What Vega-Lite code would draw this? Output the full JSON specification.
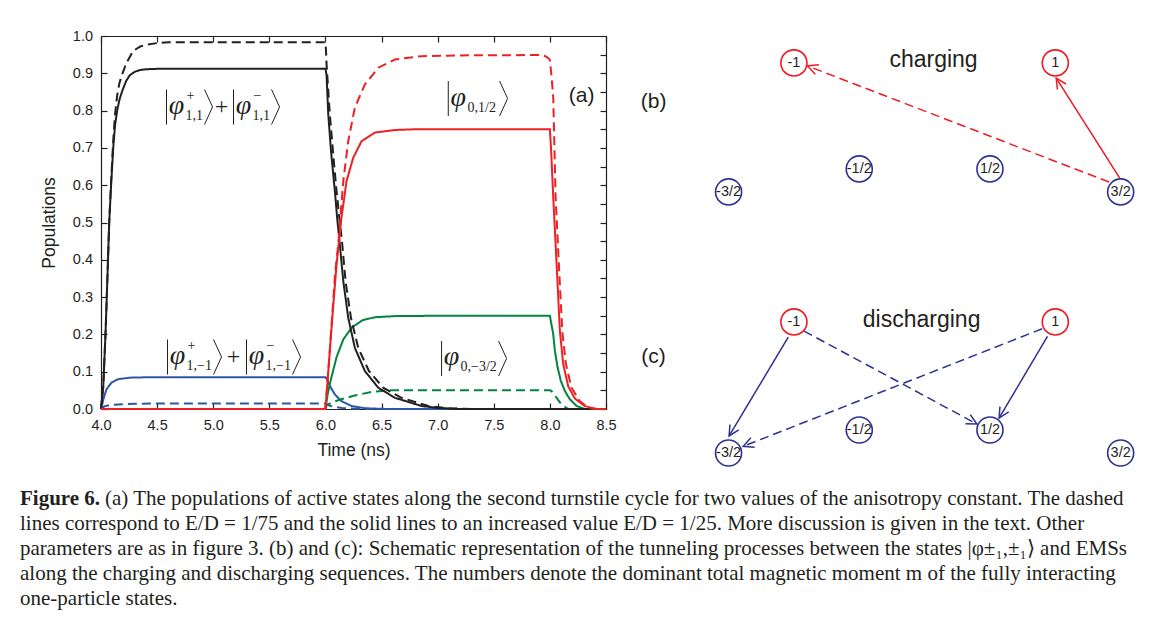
{
  "$schema": "https://vega.github.io/schema/vega-lite/v6.json",
  "padding": {"left": 20, "top": 28, "right": 0, "bottom": 0},
  "background": "white",
  "config": {"view": {"stroke": null}, "font": "Liberation Sans"},
  "datasets": {
    "lines": [
      {"s":"blue","e":"1/25","t":4.0,"p":0},{"s":"blue","e":"1/25","t":4.025,"p":0.03},{"s":"blue","e":"1/25","t":4.049,"p":0.053},{"s":"blue","e":"1/25","t":4.094,"p":0.071},{"s":"blue","e":"1/25","t":4.153,"p":0.08},{"s":"blue","e":"1/25","t":4.257,"p":0.084},{"s":"blue","e":"1/25","t":4.4,"p":0.085},{"s":"blue","e":"1/25","t":6.0,"p":0.085},{"s":"blue","e":"1/25","t":6.01,"p":0.082},{"s":"blue","e":"1/25","t":6.039,"p":0.062},{"s":"blue","e":"1/25","t":6.084,"p":0.039},{"s":"blue","e":"1/25","t":6.143,"p":0.021},{"s":"blue","e":"1/25","t":6.233,"p":0.008},{"s":"blue","e":"1/25","t":6.351,"p":0.002},{"s":"blue","e":"1/25","t":6.55,"p":0},{"s":"blue","e":"1/25","t":8.5,"p":0},
      {"s":"blue","e":"1/75","t":4.0,"p":0},{"s":"blue","e":"1/75","t":4.03,"p":0.007},{"s":"blue","e":"1/75","t":4.08,"p":0.011},{"s":"blue","e":"1/75","t":4.2,"p":0.013},{"s":"blue","e":"1/75","t":4.5,"p":0.015},{"s":"blue","e":"1/75","t":6.0,"p":0.015},{"s":"blue","e":"1/75","t":6.01,"p":0.012},{"s":"blue","e":"1/75","t":6.05,"p":0.008},{"s":"blue","e":"1/75","t":6.084,"p":0.005},{"s":"blue","e":"1/75","t":6.15,"p":0.003},{"s":"blue","e":"1/75","t":6.25,"p":0.001},{"s":"blue","e":"1/75","t":6.35,"p":0},{"s":"blue","e":"1/75","t":8.5,"p":0},
      {"s":"green","e":"1/25","t":4.0,"p":0},{"s":"green","e":"1/25","t":6.0,"p":0},{"s":"green","e":"1/25","t":6.02,"p":0.04},{"s":"green","e":"1/25","t":6.045,"p":0.075},{"s":"green","e":"1/25","t":6.1,"p":0.14},{"s":"green","e":"1/25","t":6.16,"p":0.187},{"s":"green","e":"1/25","t":6.233,"p":0.218},{"s":"green","e":"1/25","t":6.33,"p":0.238},{"s":"green","e":"1/25","t":6.44,"p":0.246},{"s":"green","e":"1/25","t":6.62,"p":0.249},{"s":"green","e":"1/25","t":7.0,"p":0.25},{"s":"green","e":"1/25","t":8.0,"p":0.25},{"s":"green","e":"1/25","t":8.03,"p":0.2},{"s":"green","e":"1/25","t":8.045,"p":0.155},{"s":"green","e":"1/25","t":8.069,"p":0.111},{"s":"green","e":"1/25","t":8.098,"p":0.075},{"s":"green","e":"1/25","t":8.134,"p":0.048},{"s":"green","e":"1/25","t":8.178,"p":0.026},{"s":"green","e":"1/25","t":8.238,"p":0.008},{"s":"green","e":"1/25","t":8.312,"p":0},{"s":"green","e":"1/25","t":8.5,"p":0},
      {"s":"green","e":"1/75","t":4.0,"p":0},{"s":"green","e":"1/75","t":6.0,"p":0},{"s":"green","e":"1/75","t":6.012,"p":0.011},{"s":"green","e":"1/75","t":6.06,"p":0.018},{"s":"green","e":"1/75","t":6.14,"p":0.026},{"s":"green","e":"1/75","t":6.26,"p":0.036},{"s":"green","e":"1/75","t":6.41,"p":0.046},{"s":"green","e":"1/75","t":6.56,"p":0.05},{"s":"green","e":"1/75","t":8.0,"p":0.05},{"s":"green","e":"1/75","t":8.015,"p":0.048},{"s":"green","e":"1/75","t":8.06,"p":0.03},{"s":"green","e":"1/75","t":8.104,"p":0.012},{"s":"green","e":"1/75","t":8.164,"p":0},{"s":"green","e":"1/75","t":8.5,"p":0},
      {"s":"black","e":"1/25","t":4.0,"p":0},{"s":"black","e":"1/25","t":4.02,"p":0.06},{"s":"black","e":"1/25","t":4.04,"p":0.2},{"s":"black","e":"1/25","t":4.057,"p":0.35},{"s":"black","e":"1/25","t":4.073,"p":0.5},{"s":"black","e":"1/25","t":4.09,"p":0.6},{"s":"black","e":"1/25","t":4.109,"p":0.7},{"s":"black","e":"1/25","t":4.125,"p":0.76},{"s":"black","e":"1/25","t":4.144,"p":0.8},{"s":"black","e":"1/25","t":4.165,"p":0.83},{"s":"black","e":"1/25","t":4.192,"p":0.855},{"s":"black","e":"1/25","t":4.225,"p":0.88},{"s":"black","e":"1/25","t":4.257,"p":0.895},{"s":"black","e":"1/25","t":4.3,"p":0.904},{"s":"black","e":"1/25","t":4.35,"p":0.909},{"s":"black","e":"1/25","t":4.406,"p":0.911},{"s":"black","e":"1/25","t":4.5,"p":0.912},{"s":"black","e":"1/25","t":6.0,"p":0.912},{"s":"black","e":"1/25","t":6.01,"p":0.895},{"s":"black","e":"1/25","t":6.025,"p":0.79},{"s":"black","e":"1/25","t":6.05,"p":0.69},{"s":"black","e":"1/25","t":6.084,"p":0.584},{"s":"black","e":"1/25","t":6.105,"p":0.51},{"s":"black","e":"1/25","t":6.128,"p":0.441},{"s":"black","e":"1/25","t":6.159,"p":0.343},{"s":"black","e":"1/25","t":6.203,"p":0.245},{"s":"black","e":"1/25","t":6.262,"p":0.164},{"s":"black","e":"1/25","t":6.351,"p":0.102},{"s":"black","e":"1/25","t":6.471,"p":0.057},{"s":"black","e":"1/25","t":6.619,"p":0.03},{"s":"black","e":"1/25","t":6.857,"p":0.008},{"s":"black","e":"1/25","t":7.0,"p":0.003},{"s":"black","e":"1/25","t":7.2,"p":0},{"s":"black","e":"1/25","t":8.5,"p":0},
      {"s":"black","e":"1/75","t":4.0,"p":0},{"s":"black","e":"1/75","t":4.02,"p":0.06},{"s":"black","e":"1/75","t":4.04,"p":0.2},{"s":"black","e":"1/75","t":4.057,"p":0.35},{"s":"black","e":"1/75","t":4.073,"p":0.5},{"s":"black","e":"1/75","t":4.09,"p":0.61},{"s":"black","e":"1/75","t":4.109,"p":0.72},{"s":"black","e":"1/75","t":4.125,"p":0.79},{"s":"black","e":"1/75","t":4.144,"p":0.84},{"s":"black","e":"1/75","t":4.165,"p":0.875},{"s":"black","e":"1/75","t":4.192,"p":0.9},{"s":"black","e":"1/75","t":4.227,"p":0.928},{"s":"black","e":"1/75","t":4.287,"p":0.96},{"s":"black","e":"1/75","t":4.35,"p":0.972},{"s":"black","e":"1/75","t":4.406,"p":0.977},{"s":"black","e":"1/75","t":4.5,"p":0.981},{"s":"black","e":"1/75","t":4.6,"p":0.983},{"s":"black","e":"1/75","t":6.0,"p":0.983},{"s":"black","e":"1/75","t":6.005,"p":0.96},{"s":"black","e":"1/75","t":6.01,"p":0.924},{"s":"black","e":"1/75","t":6.039,"p":0.79},{"s":"black","e":"1/75","t":6.07,"p":0.68},{"s":"black","e":"1/75","t":6.099,"p":0.584},{"s":"black","e":"1/75","t":6.125,"p":0.51},{"s":"black","e":"1/75","t":6.15,"p":0.441},{"s":"black","e":"1/75","t":6.179,"p":0.343},{"s":"black","e":"1/75","t":6.227,"p":0.245},{"s":"black","e":"1/75","t":6.292,"p":0.164},{"s":"black","e":"1/75","t":6.387,"p":0.102},{"s":"black","e":"1/75","t":6.515,"p":0.057},{"s":"black","e":"1/75","t":6.678,"p":0.03},{"s":"black","e":"1/75","t":6.916,"p":0.008},{"s":"black","e":"1/75","t":7.1,"p":0.002},{"s":"black","e":"1/75","t":7.3,"p":0},{"s":"black","e":"1/75","t":8.5,"p":0},
      {"s":"red","e":"1/25","t":4.0,"p":0},{"s":"red","e":"1/25","t":6.0,"p":0},{"s":"red","e":"1/25","t":6.03,"p":0.12},{"s":"red","e":"1/25","t":6.06,"p":0.24},{"s":"red","e":"1/25","t":6.099,"p":0.388},{"s":"red","e":"1/25","t":6.143,"p":0.513},{"s":"red","e":"1/25","t":6.188,"p":0.611},{"s":"red","e":"1/25","t":6.248,"p":0.674},{"s":"red","e":"1/25","t":6.322,"p":0.718},{"s":"red","e":"1/25","t":6.44,"p":0.741},{"s":"red","e":"1/25","t":6.619,"p":0.748},{"s":"red","e":"1/25","t":6.8,"p":0.75},{"s":"red","e":"1/25","t":8.0,"p":0.75},{"s":"red","e":"1/25","t":8.01,"p":0.7},{"s":"red","e":"1/25","t":8.03,"p":0.567},{"s":"red","e":"1/25","t":8.06,"p":0.388},{"s":"red","e":"1/25","t":8.089,"p":0.209},{"s":"red","e":"1/25","t":8.119,"p":0.12},{"s":"red","e":"1/25","t":8.164,"p":0.06},{"s":"red","e":"1/25","t":8.223,"p":0.028},{"s":"red","e":"1/25","t":8.253,"p":0.021},{"s":"red","e":"1/25","t":8.312,"p":0.008},{"s":"red","e":"1/25","t":8.372,"p":0.003},{"s":"red","e":"1/25","t":8.42,"p":0},{"s":"red","e":"1/25","t":8.5,"p":0},
      {"s":"red","e":"1/75","t":4.0,"p":0},{"s":"red","e":"1/75","t":6.0,"p":0},{"s":"red","e":"1/75","t":6.03,"p":0.12},{"s":"red","e":"1/75","t":6.06,"p":0.25},{"s":"red","e":"1/75","t":6.085,"p":0.36},{"s":"red","e":"1/75","t":6.114,"p":0.441},{"s":"red","e":"1/75","t":6.159,"p":0.611},{"s":"red","e":"1/75","t":6.203,"p":0.718},{"s":"red","e":"1/75","t":6.262,"p":0.808},{"s":"red","e":"1/75","t":6.351,"p":0.87},{"s":"red","e":"1/75","t":6.471,"p":0.915},{"s":"red","e":"1/75","t":6.619,"p":0.937},{"s":"red","e":"1/75","t":6.857,"p":0.946},{"s":"red","e":"1/75","t":7.2,"p":0.948},{"s":"red","e":"1/75","t":7.9,"p":0.949},{"s":"red","e":"1/75","t":7.96,"p":0.946},{"s":"red","e":"1/75","t":7.99,"p":0.94},{"s":"red","e":"1/75","t":8.0,"p":0.935},{"s":"red","e":"1/75","t":8.015,"p":0.89},{"s":"red","e":"1/75","t":8.03,"p":0.835},{"s":"red","e":"1/75","t":8.051,"p":0.567},{"s":"red","e":"1/75","t":8.08,"p":0.388},{"s":"red","e":"1/75","t":8.11,"p":0.209},{"s":"red","e":"1/75","t":8.143,"p":0.12},{"s":"red","e":"1/75","t":8.193,"p":0.057},{"s":"red","e":"1/75","t":8.267,"p":0.021},{"s":"red","e":"1/75","t":8.33,"p":0.006},{"s":"red","e":"1/75","t":8.387,"p":0},{"s":"red","e":"1/75","t":8.5,"p":0}
    ],
    "ketRules": [
      {"x":4.5838,"y":0.8566,"x2":4.5838,"y2":0.7627},{"x":4.9225,"y":0.8566,"x2":4.9938,"y2":0.8097},{"x":4.9938,"y":0.8097,"x2":4.9225,"y2":0.7627},
      {"x":5.1809,"y":0.8566,"x2":5.1809,"y2":0.7627},{"x":5.5196,"y":0.8566,"x2":5.5909,"y2":0.8097},{"x":5.5909,"y":0.8097,"x2":5.5196,"y2":0.7627},
      {"x":7.0945,"y":0.8794,"x2":7.0945,"y2":0.7855},{"x":7.5517,"y":0.8794,"x2":7.623,"y2":0.8324},{"x":7.623,"y":0.8324,"x2":7.5517,"y2":0.7855},
      {"x":4.5927,"y":0.1863,"x2":4.5927,"y2":0.0925},{"x":5.0027,"y":0.1863,"x2":5.074,"y2":0.1394},{"x":5.074,"y":0.1394,"x2":5.0027,"y2":0.0925},
      {"x":5.2968,"y":0.1863,"x2":5.2968,"y2":0.0925},{"x":5.7068,"y":0.1863,"x2":5.7781,"y2":0.1394},{"x":5.7781,"y":0.1394,"x2":5.7068,"y2":0.0925},
      {"x":7.0348,"y":0.1823,"x2":7.0348,"y2":0.0885},{"x":7.5428,"y":0.1823,"x2":7.6141,"y2":0.1354},{"x":7.6141,"y":0.1354,"x2":7.5428,"y2":0.0885}
    ],
    "ketText": [
      {"k":"phi","t":4.6729,"p":0.8123,"txt":"φ"},{"k":"phi","t":5.2701,"p":0.8123,"txt":"φ"},{"k":"phi","t":7.1836,"p":0.8351,"txt":"φ"},{"k":"phi","t":4.6818,"p":0.1421,"txt":"φ"},{"k":"phi","t":5.3859,"p":0.1421,"txt":"φ"},{"k":"phi","t":7.1239,"p":0.1381,"txt":"φ"},
      {"k":"sup","t":4.762,"p":0.8391,"txt":"+"},{"k":"sup","t":5.3592,"p":0.8391,"txt":"−"},{"k":"sup","t":4.7709,"p":0.1689,"txt":"+"},{"k":"sup","t":5.475,"p":0.1689,"txt":"−"},
      {"k":"sub","t":4.7531,"p":0.7855,"txt":"1,1"},{"k":"sub","t":5.3503,"p":0.7855,"txt":"1,1"},{"k":"sub","t":7.2665,"p":0.8083,"txt":"0,1/2"},{"k":"sub","t":4.762,"p":0.1153,"txt":"1,−1"},{"k":"sub","t":5.4661,"p":0.1153,"txt":"1,−1"},{"k":"sub","t":7.2041,"p":0.1113,"txt":"0,−3/2"},
      {"k":"op","t":5.074,"p":0.8097,"txt":"+"},{"k":"op","t":5.1809,"p":0.1394,"txt":"+"}
    ],
    "states": [
      {"m":-1,"lv":16.96,"lbl":"-1","col":"red"},{"m":1,"lv":16.96,"lbl":"1","col":"red"},{"m":-0.5,"lv":12.35,"lbl":"-1/2","col":"blue"},{"m":0.5,"lv":12.35,"lbl":"1/2","col":"blue"},{"m":-1.5,"lv":11.35,"lbl":"-3/2","col":"blue"},{"m":1.5,"lv":11.35,"lbl":"3/2","col":"blue"},
      {"m":-1,"lv":5.7,"lbl":"-1","col":"red"},{"m":1,"lv":5.7,"lbl":"1","col":"red"},{"m":-0.5,"lv":1.0,"lbl":"-1/2","col":"blue"},{"m":0.5,"lv":1.0,"lbl":"1/2","col":"blue"},{"m":-1.5,"lv":0,"lbl":"-3/2","col":"blue"},{"m":1.5,"lv":0,"lbl":"3/2","col":"blue"}
    ],
    "arrows": [
      {"x":1.412,"y":11.78,"x2":-0.896,"y2":16.83,"col":"red","dash":"dashed"},
      {"x":1.492,"y":11.96,"x2":1.007,"y2":16.3,"col":"red","dash":"solid"},
      {"x":-1.043,"y":5.04,"x2":-1.496,"y2":0.74,"col":"blue","dash":"solid"},
      {"x":-0.922,"y":5.3,"x2":0.4,"y2":1.26,"col":"blue","dash":"dashed"},
      {"x":0.899,"y":5.4,"x2":-1.388,"y2":0.29,"col":"blue","dash":"dashed"},
      {"x":0.94,"y":5.07,"x2":0.57,"y2":1.52,"col":"blue","dash":"solid"}
    ],
    "schText": [
      {"k":"big","m":0.068,"lv":17.09,"txt":"charging"},{"k":"big","m":-0.023,"lv":5.78,"txt":"discharging"},
      {"k":"pan","m":-2.074,"lv":15.26,"txt":"(b)"},{"k":"pan","m":-2.074,"lv":4.17,"txt":"(c)"}
    ],
    "caption": [
      {"k":"bold","line":1,"txt":"Figure 6."},
      {"k":"first","line":1,"txt":"(a) The populations of active states along the second turnstile cycle for two values of the anisotropy constant. The dashed"},
      {"k":"rest","line":2,"txt":"lines correspond to E/D = 1/75 and the solid lines to an increased value E/D = 1/25. More discussion is given in the text. Other"},
      {"k":"rest","line":3,"txt":"parameters are as in figure 3. (b) and (c): Schematic representation of the tunneling processes between the states |φ±₁,±₁⟩ and EMSs"},
      {"k":"rest","line":4,"txt":"along the charging and discharging sequences. The numbers denote the dominant total magnetic moment m of the fully interacting"},
      {"k":"rest","line":5,"txt":"one-particle states."}
    ]
  },
  "vconcat": [
    {
      "spacing": 7,
      "hconcat": [
        {"width": 13, "height": 10, "data": {"values": []}, "mark": "point"},
        {
          "width": 505, "height": 373,
          "resolve": {"axis": {"x": "independent", "y": "independent"}},
          "layer": [
            {
              "data": {"name": "lines"}, "transform": [{"filter": "datum.s == 'blue'"}],
              "mark": {"type": "line", "color": "#2e56a6", "strokeWidth": 2},
              "encoding": {
                "x": {"field": "t", "type": "quantitative", "scale": {"domain": [4, 8.5], "nice": false, "zero": false},
                  "axis": {"orient": "bottom", "values": [4,4.5,5,5.5,6,6.5,7,7.5,8,8.5], "format": ".1f", "title": "Time (ns)", "tickSize": -6, "labelPadding": 15, "labelFlush": false, "labelOverlap": false, "grid": false, "domainColor": "#231f20", "tickColor": "#231f20", "domainWidth": 1.2, "tickWidth": 1.2, "labelFont": "Liberation Sans", "labelFontSize": 14.5, "labelColor": "#231f20", "titleFont": "Liberation Sans", "titleFontSize": 17.5, "titleFontWeight": "normal", "titleColor": "#231f20", "titlePadding": 10}},
                "y": {"field": "p", "type": "quantitative", "scale": {"domain": [0, 1], "nice": false, "zero": false},
                  "axis": {"orient": "left", "values": [0,0.1,0.2,0.3,0.4,0.5,0.6,0.7,0.8,0.9,1], "format": ".1f", "title": "Populations", "tickSize": -6, "labelPadding": 14.5, "labelFlush": false, "labelOverlap": false, "grid": false, "domainColor": "#231f20", "tickColor": "#231f20", "domainWidth": 1.2, "tickWidth": 1.2, "labelFont": "Liberation Sans", "labelFontSize": 14.5, "labelColor": "#231f20", "titleFont": "Liberation Sans", "titleFontSize": 17.5, "titleFontWeight": "normal", "titleColor": "#231f20", "titlePadding": 14}},
                "strokeDash": {"field": "e", "type": "nominal", "scale": {"domain": ["1/25", "1/75"], "range": [[1, 0], [9, 5]]}, "legend": null}
              }
            },
            {
              "data": {"name": "lines"}, "transform": [{"filter": "datum.s == 'green'"}],
              "mark": {"type": "line", "color": "#00853e", "strokeWidth": 2},
              "encoding": {
                "x": {"field": "t", "type": "quantitative", "scale": {"domain": [4, 8.5], "nice": false, "zero": false}, "axis": null},
                "y": {"field": "p", "type": "quantitative", "scale": {"domain": [0, 1], "nice": false, "zero": false}, "axis": null},
                "strokeDash": {"field": "e", "type": "nominal", "legend": null}
              }
            },
            {
              "data": {"name": "lines"}, "transform": [{"filter": "datum.s == 'black'"}],
              "mark": {"type": "line", "color": "#231f20", "strokeWidth": 2},
              "encoding": {
                "x": {"field": "t", "type": "quantitative", "scale": {"domain": [4, 8.5], "nice": false, "zero": false}, "axis": null},
                "y": {"field": "p", "type": "quantitative", "scale": {"domain": [0, 1], "nice": false, "zero": false}, "axis": null},
                "strokeDash": {"field": "e", "type": "nominal", "legend": null}
              }
            },
            {
              "data": {"name": "lines"}, "transform": [{"filter": "datum.s == 'red'"}],
              "mark": {"type": "line", "color": "#ed2024", "strokeWidth": 2},
              "encoding": {
                "x": {"field": "t", "type": "quantitative", "scale": {"domain": [4, 8.5], "nice": false, "zero": false}, "axis": null},
                "y": {"field": "p", "type": "quantitative", "scale": {"domain": [0, 1], "nice": false, "zero": false}, "axis": null},
                "strokeDash": {"field": "e", "type": "nominal", "legend": null}
              }
            },
            {
              "data": {"name": "ketRules"},
              "mark": {"type": "rule", "color": "#231f20", "strokeWidth": 1},
              "encoding": {
                "x": {"field": "x", "type": "quantitative", "scale": {"domain": [4, 8.5], "nice": false, "zero": false}, "axis": null},
                "y": {"field": "y", "type": "quantitative", "scale": {"domain": [0, 1], "nice": false, "zero": false}, "axis": null},
                "x2": {"field": "x2"}, "y2": {"field": "y2"}
              }
            },
            {
              "data": {"name": "ketText"}, "transform": [{"filter": "datum.k == 'phi'"}],
              "mark": {"type": "text", "font": "Liberation Serif", "fontStyle": "italic", "fontSize": 28, "color": "#231f20", "align": "center", "baseline": "middle"},
              "encoding": {
                "x": {"field": "t", "type": "quantitative", "scale": {"domain": [4, 8.5], "nice": false, "zero": false}, "axis": null},
                "y": {"field": "p", "type": "quantitative", "scale": {"domain": [0, 1], "nice": false, "zero": false}, "axis": null},
                "text": {"field": "txt"}
              }
            },
            {
              "data": {"name": "ketText"}, "transform": [{"filter": "datum.k == 'sup' || datum.k == 'sub'"}],
              "mark": {"type": "text", "font": "Liberation Serif", "fontSize": 14, "color": "#231f20", "align": "left", "baseline": "middle"},
              "encoding": {
                "x": {"field": "t", "type": "quantitative", "scale": {"domain": [4, 8.5], "nice": false, "zero": false}, "axis": null},
                "y": {"field": "p", "type": "quantitative", "scale": {"domain": [0, 1], "nice": false, "zero": false}, "axis": null},
                "text": {"field": "txt"}
              }
            },
            {
              "data": {"name": "ketText"}, "transform": [{"filter": "datum.k == 'op'"}],
              "mark": {"type": "text", "font": "Liberation Serif", "fontSize": 24, "color": "#231f20", "align": "center", "baseline": "middle"},
              "encoding": {
                "x": {"field": "t", "type": "quantitative", "scale": {"domain": [4, 8.5], "nice": false, "zero": false}, "axis": null},
                "y": {"field": "p", "type": "quantitative", "scale": {"domain": [0, 1], "nice": false, "zero": false}, "axis": null},
                "text": {"field": "txt"}
              }
            },
            {
              "data": {"values": [{"t": 8.2825, "p": 0.8391, "txt": "(a)"}]},
              "mark": {"type": "text", "font": "Liberation Sans", "fontSize": 21, "color": "#231f20", "align": "center", "baseline": "middle"},
              "encoding": {
                "x": {"field": "t", "type": "quantitative", "scale": {"domain": [4, 8.5], "nice": false, "zero": false},
                  "axis": {"orient": "top", "values": [4,4.5,5,5.5,6,6.5,7,7.5,8,8.5], "labels": false, "title": null, "tickSize": -6, "grid": false, "domainColor": "#231f20", "tickColor": "#231f20", "domainWidth": 1.2, "tickWidth": 1.2}},
                "y": {"field": "p", "type": "quantitative", "scale": {"domain": [0, 1], "nice": false, "zero": false},
                  "axis": {"orient": "right", "values": [0,0.05,0.1,0.15,0.2,0.25,0.3,0.35,0.4,0.45,0.5,0.55,0.6,0.65,0.7,0.75,0.8,0.85,0.9,0.95,1], "labels": false, "title": null, "tickSize": -6, "grid": false, "domainColor": "#231f20", "tickColor": "#231f20", "domainWidth": 1.2, "tickWidth": 1.2}},
                "text": {"field": "txt"}
              }
            }
          ]
        },
        {
          "width": 536, "height": 440,
          "layer": [
            {
              "data": {"name": "arrows"},
              "mark": {"type": "rule", "strokeWidth": 1.5},
              "encoding": {
                "x": {"field": "x", "type": "quantitative", "scale": {"domain": [-2.3, 1.801], "nice": false, "zero": false}, "axis": null},
                "y": {"field": "y", "type": "quantitative", "scale": {"domain": [-1, 18.13], "nice": false, "zero": false}, "axis": null},
                "x2": {"field": "x2"}, "y2": {"field": "y2"},
                "color": {"field": "col", "type": "nominal", "scale": {"domain": ["red", "blue"], "range": ["#ed1c24", "#2e3192"]}, "legend": null},
                "strokeDash": {"field": "dash", "type": "nominal", "scale": {"domain": ["solid", "dashed"], "range": [[1, 0], [3, 3]]}, "legend": null}
              }
            },
            {
              "data": {"name": "arrows"},
              "transform": [{"calculate": "atan2((datum.x2 - datum.x) * 130.7, (datum.y2 - datum.y) * 23) * 180 / PI", "as": "ang"}],
              "mark": {"type": "point", "shape": "M -0.5 1 L 0 0 L 0.5 1", "filled": false, "size": 420, "strokeWidth": 1.5, "opacity": 1},
              "encoding": {
                "x": {"field": "x2", "type": "quantitative", "scale": {"domain": [-2.3, 1.801], "nice": false, "zero": false}, "axis": null},
                "y": {"field": "y2", "type": "quantitative", "scale": {"domain": [-1, 18.13], "nice": false, "zero": false}, "axis": null},
                "color": {"field": "col", "type": "nominal", "legend": null},
                "angle": {"field": "ang", "type": "quantitative", "scale": null}
              }
            },
            {
              "data": {"name": "states"},
              "mark": {"type": "point", "shape": "circle", "filled": true, "fill": "white", "size": 680, "strokeWidth": 1.6, "opacity": 1},
              "encoding": {
                "x": {"field": "m", "type": "quantitative", "scale": {"domain": [-2.3, 1.801], "nice": false, "zero": false}, "axis": null},
                "y": {"field": "lv", "type": "quantitative", "scale": {"domain": [-1, 18.13], "nice": false, "zero": false}, "axis": null},
                "stroke": {"field": "col", "type": "nominal", "scale": {"domain": ["red", "blue"], "range": ["#ed1c24", "#2e3192"]}, "legend": null}
              }
            },
            {
              "data": {"name": "states"},
              "mark": {"type": "text", "font": "Liberation Sans", "fontSize": 14.5, "color": "#231f20", "align": "center", "baseline": "middle"},
              "encoding": {
                "x": {"field": "m", "type": "quantitative", "scale": {"domain": [-2.3, 1.801], "nice": false, "zero": false}, "axis": null},
                "y": {"field": "lv", "type": "quantitative", "scale": {"domain": [-1, 18.13], "nice": false, "zero": false}, "axis": null},
                "text": {"field": "lbl"}
              }
            },
            {
              "data": {"name": "schText"}, "transform": [{"filter": "datum.k == 'big'"}],
              "mark": {"type": "text", "font": "Liberation Sans", "fontSize": 23, "color": "#231f20", "align": "center", "baseline": "middle"},
              "encoding": {
                "x": {"field": "m", "type": "quantitative", "scale": {"domain": [-2.3, 1.801], "nice": false, "zero": false}, "axis": null},
                "y": {"field": "lv", "type": "quantitative", "scale": {"domain": [-1, 18.13], "nice": false, "zero": false}, "axis": null},
                "text": {"field": "txt"}
              }
            },
            {
              "data": {"name": "schText"}, "transform": [{"filter": "datum.k == 'pan'"}],
              "mark": {"type": "text", "font": "Liberation Sans", "fontSize": 21, "color": "#231f20", "align": "center", "baseline": "middle"},
              "encoding": {
                "x": {"field": "m", "type": "quantitative", "scale": {"domain": [-2.3, 1.801], "nice": false, "zero": false}, "axis": null},
                "y": {"field": "lv", "type": "quantitative", "scale": {"domain": [-1, 18.13], "nice": false, "zero": false}, "axis": null},
                "text": {"field": "txt"}
              }
            }
          ]
        }
      ]
    },
    {
      "width": 1131, "height": 125,
      "data": {"name": "caption"},
      "layer": [
        {
          "transform": [{"filter": "datum.k == 'bold'"}],
          "mark": {"type": "text", "font": "Liberation Serif", "fontSize": 21, "fontWeight": "bold", "color": "#231f20", "align": "left", "baseline": "middle"},
          "encoding": {"x": {"value": 0}, "y": {"field": "line", "type": "ordinal", "axis": null}, "text": {"field": "txt"}}
        },
        {
          "transform": [{"filter": "datum.k == 'first'"}],
          "mark": {"type": "text", "font": "Liberation Serif", "fontSize": 21, "color": "#231f20", "align": "left", "baseline": "middle", "dx": 85},
          "encoding": {"x": {"value": 0}, "y": {"field": "line", "type": "ordinal", "axis": null}, "text": {"field": "txt"}}
        },
        {
          "transform": [{"filter": "datum.k == 'rest'"}],
          "mark": {"type": "text", "font": "Liberation Serif", "fontSize": 21, "color": "#231f20", "align": "left", "baseline": "middle"},
          "encoding": {"x": {"value": 0}, "y": {"field": "line", "type": "ordinal", "axis": null}, "text": {"field": "txt"}}
        }
      ]
    }
  ],
  "spacing": 10.5
}
